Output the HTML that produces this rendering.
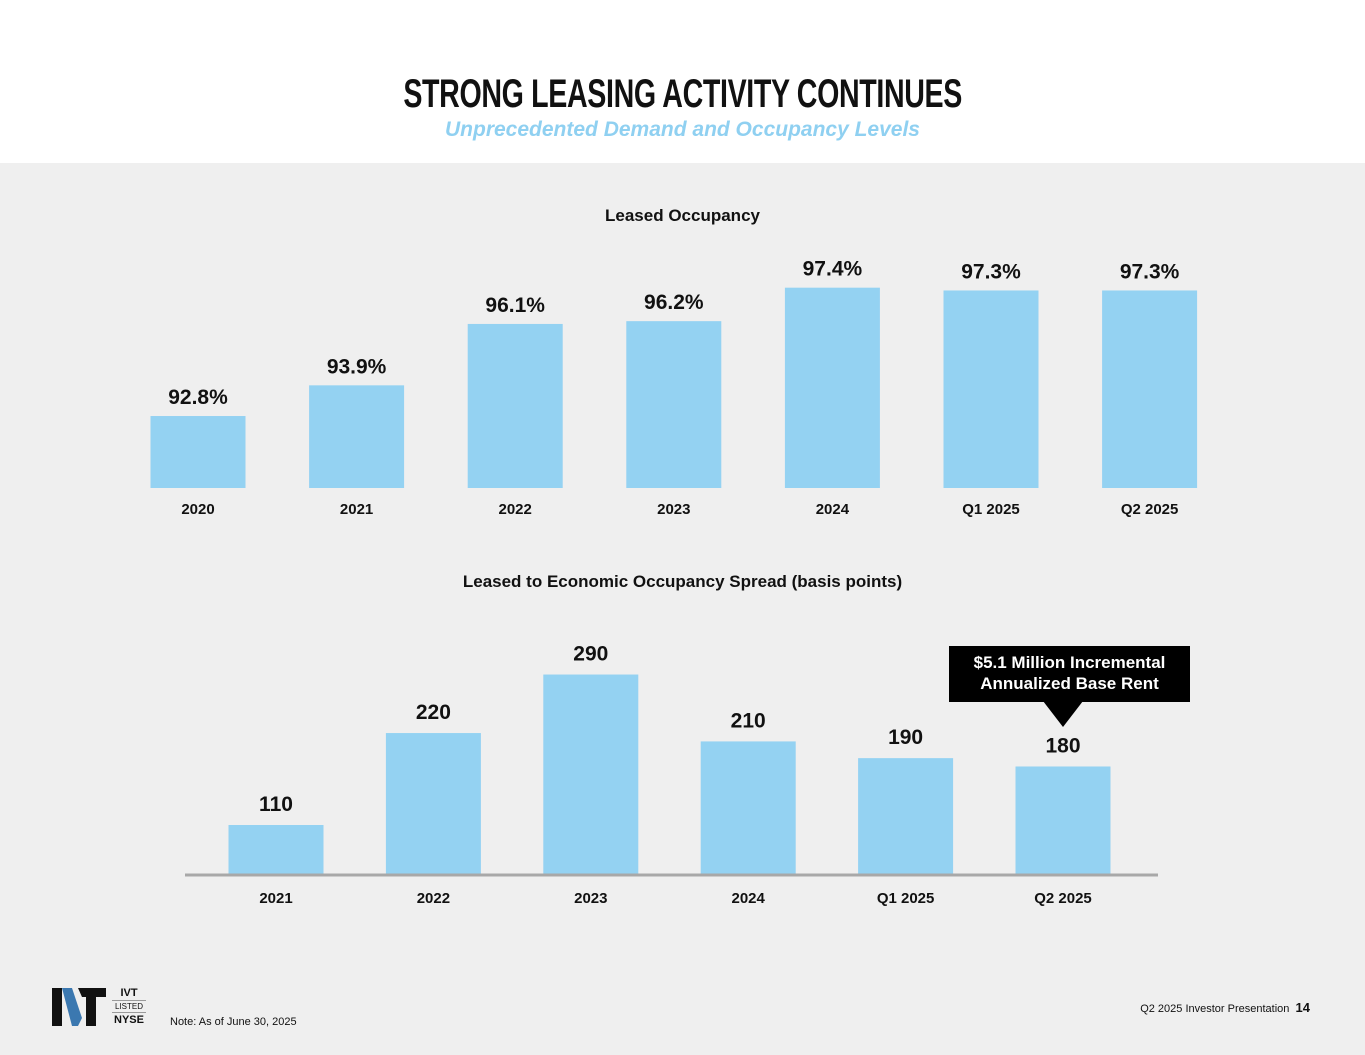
<!DOCTYPE html>
<html><head><meta charset="utf-8"><style>
body{margin:0;width:1365px;height:1055px;background:#efefef;font-family:"Liberation Sans",sans-serif;position:relative;overflow:hidden}
.hdr{position:absolute;left:0;top:0;width:1365px;height:163px;background:#fff}
.t{position:absolute;left:0;width:1365px;text-align:center;font-weight:bold}
</style></head><body>
<div class="hdr"></div>
<div class="t" style="top:72px;font-size:40px;color:#111;letter-spacing:-0.5px"><span style="display:inline-block;transform:scaleX(0.715)">STRONG LEASING ACTIVITY CONTINUES</span></div>
<div class="t" style="top:118px;font-size:21px;font-style:italic;color:#8fd0f1">Unprecedented Demand and Occupancy Levels</div>
<div class="t" style="top:206px;font-size:17px;color:#111">Leased Occupancy</div>
<div class="t" style="top:572px;font-size:17px;color:#111">Leased to Economic Occupancy Spread (basis points)</div>
<svg id="c" width="1365" height="1055" style="position:absolute;left:0;top:0"></svg>
<div style="position:absolute;left:949px;top:646px;width:241px;height:56px;background:#000;color:#fff;font-weight:bold;font-size:17px;text-align:center;line-height:21px;padding-top:6px;box-sizing:border-box">$5.1 Million Incremental<br>Annualized Base Rent</div>
<div style="position:absolute;left:1043px;top:701px;width:0;height:0;border-left:20px solid transparent;border-right:20px solid transparent;border-top:26px solid #000"></div>
<svg width="60" height="40" style="position:absolute;left:52px;top:988px">
<polygon points="0,0 10,0 10,38 0,38" fill="#111"/><polygon points="10,0 20,0 30,30 26,38 20,38" fill="#3b78b0"/><polygon points="26,0 54,0 54,9 44,9 44,38 34,38 34,9 30,9" fill="#111"/></svg>
<div style="position:absolute;left:112px;top:986px;width:34px;text-align:center;font-size:11px;font-weight:bold;line-height:14px;color:#111">IVT<div style="font-size:8px;font-weight:normal;border-top:1px solid #999;border-bottom:1px solid #999;line-height:11px">LISTED</div>NYSE</div>
<div style="position:absolute;left:170px;top:1016px;font-size:11px;color:#111">Note: As of June 30, 2025</div>
<div style="position:absolute;right:55px;top:1000px;font-size:11px;color:#111">Q2 2025 Investor Presentation&nbsp;&nbsp;<b style="font-size:13px">14</b></div>
<script>
const cats1=["2020","2021","2022","2023","2024","Q1 2025","Q2 2025"];
const vals1=[92.8,93.9,96.1,96.2,97.4,97.3,97.3];
const labels1=["92.8%","93.9%","96.1%","96.2%","97.4%","97.3%","97.3%"];
const cats2=["2021","2022","2023","2024","Q1 2025","Q2 2025"];
const vals2=[110,220,290,210,190,180];
const svg=document.getElementById('c');const NS="http://www.w3.org/2000/svg";
function mk(t,a,txt){const e=document.createElementNS(NS,t);for(const k in a)e.setAttribute(k,a[k]);if(txt!=null)e.textContent=txt;svg.appendChild(e);return e;}
const x1=i=>198+i*158.6, y1=v=>488-(v-90.22)*27.9;
vals1.forEach((v,i)=>{
 const r=mk('rect',{x:x1(i)-47.5,y:y1(v),width:95,height:488-y1(v),fill:'#94d2f2'});
 
 
 const t=mk('text',{x:x1(i),y:y1(v)-12,'text-anchor':'middle','font-size':21,'font-weight':'bold',fill:'#111'},labels1[i]);
 
 
 const c=mk('text',{x:x1(i),y:514,'text-anchor':'middle','font-size':15,'font-weight':'bold',fill:'#111'},cats1[i]);
 
 
});
const x2=i=>276+i*157.4, h2=v=>(v-51.4)*0.836, base=874;
vals2.forEach((v,i)=>{
 const r=mk('rect',{x:x2(i)-47.5,y:base-h2(v),width:95,height:h2(v),fill:'#94d2f2'});
 
 
 const t=mk('text',{x:x2(i),y:base-h2(v)-14,'text-anchor':'middle','font-size':21,'font-weight':'bold',fill:'#111'},String(v));
 
 
 const c=mk('text',{x:x2(i),y:903,'text-anchor':'middle','font-size':15,'font-weight':'bold',fill:'#111'},cats2[i]);
 
 
});
const ax=mk('line',{x1:185,x2:1158,y1:base+1,y2:base+1,stroke:'#a8a8a8','stroke-width':3});


</script>
</body></html>
